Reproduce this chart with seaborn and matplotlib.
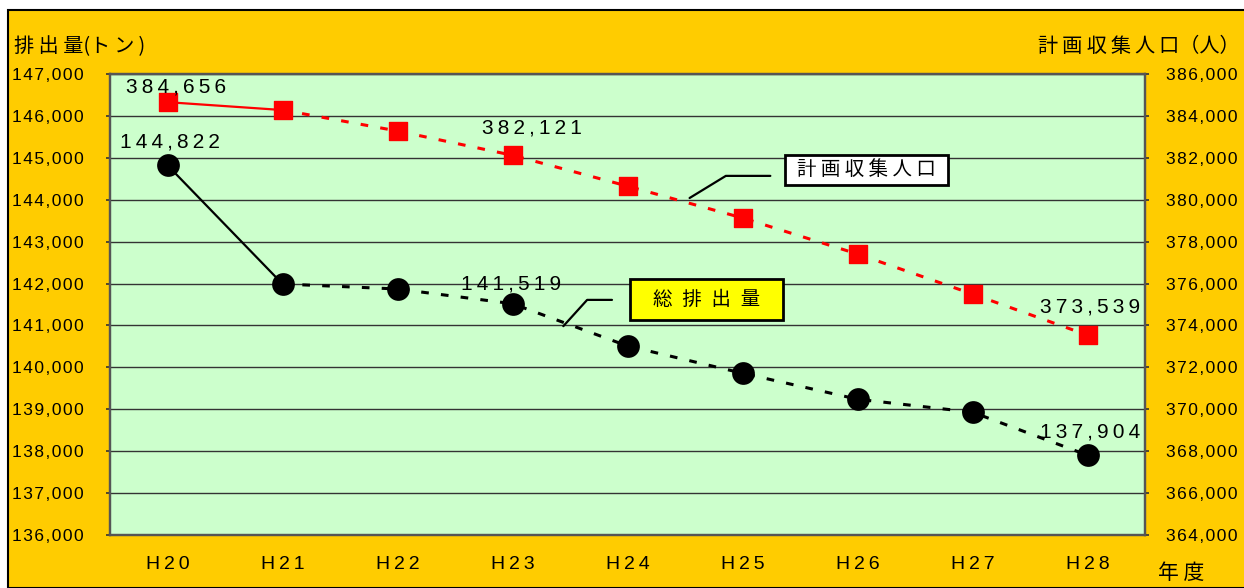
import matplotlib
matplotlib.use("Agg")
import matplotlib.pyplot as plt
from matplotlib.patches import Rectangle
from matplotlib.lines import Line2D
import seaborn as sns
import pandas as pd

# 年度別データ
years = ["H20", "H21", "H22", "H23", "H24", "H25", "H26", "H27", "H28"]
waste_t = [144822, 141990, 141870, 141519, 140510, 139860, 139240, 138930, 137904]
population = [384656, 384280, 383280, 382121, 380650, 379130, 377410, 375500, 373539]

# 数値ラベルを付ける年度
waste_labeled = ["H20", "H23", "H28"]
pop_labeled = ["H20", "H23", "H28"]

left_ticks = list(range(136000, 147001, 1000))
right_ticks = list(range(364000, 386001, 2000))

GOLD = "#FFCC00"
PLOT_BG = "#CCFFCC"
JP = ["Noto Sans CJK JP", "DejaVu Sans"]
NUM = ["Liberation Sans", "DejaVu Sans"]
THIN = "\u2009"
HAIR = "\u200a"

sns.set_style("white")
plt.rcParams["font.family"] = JP
plt.rcParams["text.color"] = "black"
plt.rcParams["xtick.labelcolor"] = "black"
plt.rcParams["ytick.labelcolor"] = "black"


def spaced(s, gap=THIN):
    """文字間を少し空けて表示する"""
    return gap.join(s)


df = pd.DataFrame({"year": years, "x": range(len(years)),
                   "waste": waste_t, "pop": population})

fig = plt.figure(figsize=(12.44, 5.88), dpi=100)
fig.patch.set_facecolor("white")
# 外枠(金色の背景)
fig.patches.append(Rectangle((8 / 1244, 0), 1.0, (588 - 10) / 588,
                             transform=fig.transFigure, facecolor=GOLD,
                             edgecolor="black", linewidth=1.5, zorder=-10))

ax = fig.add_axes([110 / 1244, 53 / 588, 1035 / 1244, 461 / 588])
ax.set_facecolor(PLOT_BG)
ax2 = ax.twinx()

DOTS = (0, (2.5, 4.0))

# 総排出量(左軸)
first = df.iloc[:2]
rest = df.iloc[1:]
sns.lineplot(data=first, x="x", y="waste", ax=ax, color="black", lw=1.6,
             zorder=3, legend=False)
sns.lineplot(data=rest, x="x", y="waste", ax=ax, color="black", lw=2.2,
             zorder=3, legend=False)
ax.lines[-1].set_linestyle(DOTS)
sns.scatterplot(data=df, x="x", y="waste", ax=ax, color="black", s=230,
                marker="o", edgecolor="black", zorder=4, legend=False)

# 計画収集人口(右軸)
sns.lineplot(data=first, x="x", y="pop", ax=ax2, color="#FF0000", lw=1.6,
             zorder=3, legend=False)
sns.lineplot(data=rest, x="x", y="pop", ax=ax2, color="#FF0000", lw=2.2,
             zorder=3, legend=False)
ax2.lines[-1].set_linestyle(DOTS)
sns.scatterplot(data=df, x="x", y="pop", ax=ax2, color="#FF0000", s=150,
                marker="s", edgecolor="#FF0000", zorder=4, legend=False)

# 軸範囲・目盛
ax.set_xlim(-0.5, len(years) - 0.5)
ax.set_ylim(left_ticks[0], left_ticks[-1])
ax2.set_ylim(right_ticks[0], right_ticks[-1])
ax.set_yticks(left_ticks)
ax.set_yticklabels([spaced(f"{v:,}", HAIR) for v in left_ticks],
                   family=NUM, fontsize=12.5)
ax2.set_yticks(right_ticks)
ax2.set_yticklabels([spaced(f"{v:,}", HAIR) for v in right_ticks],
                    family=NUM, fontsize=12.5)
ax.set_xticks(range(len(years)))
ax.set_xticklabels([spaced(y) for y in years], family=NUM, fontsize=14)
ax.set_xticks([i + 0.5 for i in range(len(years) - 1)], minor=True)
ax.tick_params(axis="x", which="major", length=0, pad=15)
ax.tick_params(axis="x", which="minor", direction="in", length=6,
               width=1.2, color="#333333")
ax.tick_params(axis="y", which="major", direction="out", length=3,
               width=1.2, color="#333333", pad=16)
ax2.tick_params(axis="y", which="major", direction="out", length=3,
                width=1.2, color="#333333", pad=12)
ax.set_xlabel("")
ax.set_ylabel("")
ax2.set_ylabel("")

ax.yaxis.grid(True, color="#333333", lw=1.0)
ax.set_axisbelow(True)
for a in (ax, ax2):
    for side in ("left", "right", "top", "bottom"):
        a.spines[side].set_color("#555555")
        a.spines[side].set_linewidth(1.6)
        a.spines[side].set_visible(True)
ax2.patch.set_visible(False)


# 数値ラベル
def point_label(axis, values, labeled, dx, dy_list):
    for yr, dy in zip(labeled, dy_list):
        i = years.index(yr)
        axis.annotate(spaced(f"{values[i]:,}"), (i, values[i]),
                      xytext=(dx[yr], dy), textcoords="offset points",
                      ha="center", va="center", fontsize=15, family=NUM,
                      zorder=6)


point_label(ax2, population, pop_labeled,
            {"H20": 6, "H23": 14, "H28": 2}, [11, 20, 20])
point_label(ax, waste_t, waste_labeled,
            {"H20": 2, "H23": -1, "H28": 2}, [17, 14, 17])


# 凡例の吹き出し
def callout(xc, yc, w, h, text, face, leader):
    ax.add_line(Line2D([p[0] for p in leader], [p[1] for p in leader],
                       transform=ax.transAxes, color="black", lw=1.6,
                       zorder=7))
    ax.add_patch(Rectangle((xc - w / 2, yc - h / 2), w, h,
                           transform=ax.transAxes, facecolor=face,
                           edgecolor="black", lw=2.0, zorder=7))
    ax.text(xc, yc, text, transform=ax.transAxes, ha="center", va="center",
            fontsize=14, zorder=8)


callout(0.731, 0.792, 163 / 1035, 30 / 461, "計 画 収 集 人 口", "white",
        [(0.560, 0.731), (0.595, 0.779), (0.638, 0.779)])
callout(0.576, 0.510, 153 / 1035, 41 / 461, "総\u2002排\u2002出\u2002量",
        "#FFFF00", [(0.438, 0.453), (0.461, 0.510), (0.485, 0.510)])

# 軸タイトル
fig.text(14 / 1244, 1 - 47 / 588, "排 出 量(ト\u2009ン\u2009)", ha="left",
         va="center", fontsize=14.5)
fig.text(1240 / 1244, 1 - 47 / 588, "計\u2009画 収\u2009集\u2009人\u2009口（人）",
         ha="right", va="center", fontsize=14.5)
fig.text(1181 / 1244, 1 - 573 / 588, "年 度", ha="center", va="center",
         fontsize=15)

fig.savefig("out.png", dpi=100, facecolor=fig.get_facecolor())
